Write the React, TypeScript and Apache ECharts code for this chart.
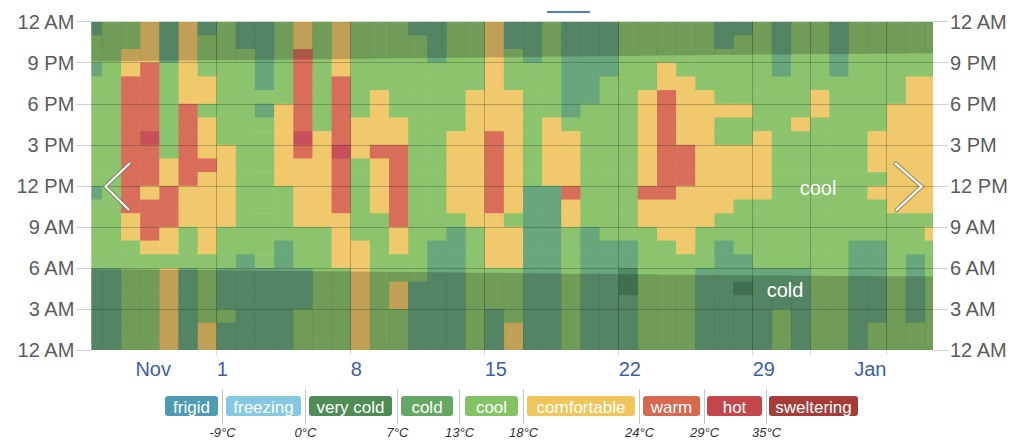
import React, { useEffect, useRef } from "react";
import * as echarts from "echarts";

// Hourly temperature band per day column, top row (11 PM-12 AM) first, bottom row (12 AM-1 AM) last.
// v = very cold, c = cold, g = cool, y = comfortable, w = warm, h = hot
const hourlyBands: string[] = [
  "cggcggggggggcgggggcccccc",
  "ggggggggggggggggggcccccc",
  "ggyywwwwwwwwwwyygggggggg",
  "yyywwwwwhwwwywwwyggggggg",
  "cccgggggggyywwwyygyyyyyy",
  "yyyyyywwwwwwyyygggcccccc",
  "cgggyygyyywyyyyyygggggyy",
  "gggggggggyyyyyygggcccgcc",
  "ccgggggggggggggggccccccc",
  "cccccgcgggggggggggcccccc",
  "ggggggyyyyyyggggcccccccc",
  "yywwwwwwhwyyyyygggcccggg",
  "ggggggggyyyyyyyggggggggg",
  "yyyywwwwwhwwwwyyyygggggg",
  "gggggggyyyggggggyyyyyyyy",
  "gggggyyyywyyyygggggggggg",
  "gggggggyywwwwwwyyggyyggg",
  "cggggggggggggggggggccccc",
  "cccgggggggggggggcccccccc",
  "ggggggggyyyyyygccccccccc",
  "gggggyyyyyyyyyyggggggggg",
  "yyyyyyyywwwwwwyyyygggccc",
  "ccgggyyyyyyyyygyyyggggyy",
  "cccgggggggggcccccccccccc",
  "gggggggyyyyycccccccccccc",
  "cccccccgyyyywyyggggggggg",
  "ccccccgggggggggccccccccc",
  "ccccggggggggggggcccccccc",
  "ggggggggggggggggccvvcccc",
  "gggggyyyyyyywyyggggggggg",
  "gggyywwwwwwwwyyygggggggg",
  "ggggyyyyywwwyyyyyggggggg",
  "gggggyyyyyyyyyygggcccccc",
  "ccggggyggyyyyyggcccccccc",
  "cgggggyggyyyyggggccvcccc",
  "ggggggggyyyyygggggcccccc",
  "ccccggggggggggggggcccggg",
  "gggggggyggggggggggcccccc",
  "gggggyyggggggggggggggggg",
  "ccccgggggggggggggggggggg",
  "ggggggggggggggggcccccccc",
  "ggggggggyyygygggccccccgg",
  "ggggggyyyyyyyygggggggggg",
  "ggggyyyyyyyyyygggcccccgg",
  "ggggyyyyyyyyyygygggggggg",
];

const bandCodes = ["v", "c", "g", "y", "w", "h"];
const bandColors = ["#4f8a66", "#68a67c", "#8cc46e", "#f0c96c", "#d86e5a", "#c8505a"];

// Night shading per day column (hours)
const sunriseHours = [
  5.9, 5.89, 5.88, 5.87, 5.86, 5.85, 5.84, 5.83, 5.82, 5.8, 5.79, 5.78, 5.76, 5.75, 5.74,
  5.72, 5.71, 5.7, 5.68, 5.67, 5.65, 5.64, 5.62, 5.61, 5.6, 5.58, 5.57, 5.55, 5.54, 5.53,
  5.51, 5.5, 5.49, 5.48, 5.47, 5.45, 5.44, 5.43, 5.42, 5.41, 5.41, 5.4, 5.39, 5.39, 5.38,
];
const sunsetHours = [
  21.1, 21.11, 21.12, 21.14, 21.15, 21.16, 21.18, 21.19, 21.2, 21.22, 21.23, 21.25, 21.26, 21.27, 21.29,
  21.3, 21.32, 21.33, 21.35, 21.36, 21.38, 21.39, 21.41, 21.42, 21.44, 21.45, 21.47, 21.48, 21.5, 21.51,
  21.53, 21.54, 21.56, 21.57, 21.58, 21.6, 21.61, 21.62, 21.63, 21.64, 21.65, 21.66, 21.67, 21.68, 21.69,
];

const xTickDays = [2.75, 7, 14, 21, 28, 35, 40.3];
const xTickLabels = ["Nov", "1", "8", "15", "22", "29", "Jan"];
const weekLines = [7, 14, 21, 28, 35, 38, 42];
const hourLines = [3, 6, 9, 12, 15, 18, 21];
const hourTickLabels = ["12 AM", "3 AM", "6 AM", "9 AM", "12 PM", "3 PM", "6 PM", "9 PM", "12 AM"];

const legendNames = ["frigid", "freezing", "very cold", "cold", "cool", "comfortable", "warm", "hot", "sweltering"];
const legendColors = ["#509bb4", "#87c8e1", "#508c55", "#64a864", "#84c364", "#efc65c", "#d76950", "#c3464b", "#a53c37"];
const thresholdLabels = ["-9°C", "0°C", "7°C", "13°C", "18°C", "24°C", "29°C", "35°C"];

const FONT = "'Liberation Sans', Arial, Helvetica, sans-serif";

export default function App() {
  const ref = useRef<HTMLDivElement>(null);

  useEffect(() => {
    if (!ref.current) return;
    const chart = echarts.init(ref.current, null, { renderer: "svg" });

    const cells: number[][] = [];
    hourlyBands.forEach((col, k) => {
      for (let i = 0; i < 24 && i < col.length; i++) {
        const idx = bandCodes.indexOf(col[i]);
        cells.push([k, 23 - i, idx < 0 ? 2 : idx]);
      }
    });
    const nights = sunriseHours.map((s, k) => [k, s, sunsetHours[k]]);

    const legendX = [165, 226, 309, 401, 465, 527, 643, 707, 769];
    const legendW = [53, 75, 83, 52, 53, 108, 57, 55, 89];
    const legendY = 396;
    const legendH = 20;

    const graphics: any[] = [];
    legendNames.forEach((name, i) => {
      graphics.push({
        type: "rect",
        shape: { x: legendX[i], y: legendY, width: legendW[i], height: legendH, r: 3 },
        style: { fill: legendColors[i] },
      });
      graphics.push({
        type: "text",
        style: {
          text: name,
          x: legendX[i] + legendW[i] / 2,
          y: legendY + legendH / 2 + 1,
          fill: "#ffffff",
          font: `17px ${FONT}`,
          align: "center",
          verticalAlign: "middle",
          textAlign: "center",
          textVerticalAlign: "middle",
        },
      });
    });
    thresholdLabels.forEach((t, i) => {
      const sx = Math.round((legendX[i] + legendW[i] + legendX[i + 1]) / 2) + 0.5;
      graphics.push({
        type: "line",
        shape: { x1: sx, y1: 389, x2: sx, y2: 424 },
        style: { stroke: "#c4c4c4", lineWidth: 1 },
      });
      graphics.push({
        type: "text",
        style: {
          text: t,
          x: sx,
          y: 432,
          fill: "#333333",
          font: `italic 13px ${FONT}`,
          align: "center",
          verticalAlign: "middle",
          textAlign: "center",
          textVerticalAlign: "middle",
        },
      });
    });
    // top page indicator
    graphics.push({
      type: "line",
      shape: { x1: 547, y1: 12, x2: 590, y2: 12 },
      style: { stroke: "#4d7fbf", lineWidth: 2 },
    });
    // navigation chevrons
    const chevrons = [
      [[129.5, 163.5], [105.5, 186.5], [128.5, 209.5]],
      [[895.5, 163.5], [921.5, 186.5], [896.5, 210]],
    ];
    chevrons.forEach((pts) => {
      graphics.push({
        type: "polyline",
        shape: { points: pts },
        style: { stroke: "rgba(110,110,110,0.55)", lineWidth: 4.5, fill: null, lineCap: "round", lineJoin: "miter" },
        z: 10,
      });
      graphics.push({
        type: "polyline",
        shape: { points: pts },
        style: { stroke: "rgba(255,255,255,0.95)", lineWidth: 2, fill: null, lineCap: "round", lineJoin: "miter" },
        z: 11,
      });
    });
    graphics.push({
      type: "text",
      z: 12,
      style: {
        text: "cool", x: 818, y: 188, fill: "#ffffff", font: `20px ${FONT}`,
        align: "center", verticalAlign: "middle", textAlign: "center", textVerticalAlign: "middle",
      },
    });
    graphics.push({
      type: "text",
      z: 12,
      style: {
        text: "cold", x: 785, y: 290, fill: "#ffffff", font: `20px ${FONT}`,
        align: "center", verticalAlign: "middle", textAlign: "center", textVerticalAlign: "middle",
      },
    });

    const yAxisBase = (pos: "left" | "right") => ({
      type: "value",
      position: pos,
      min: 0,
      max: 24,
      interval: 3,
      axisLine: { show: false },
      splitLine: { show: false },
      axisTick: { show: true, length: 15, lineStyle: { color: "#cfcfcf", width: 1 } },
      axisLabel: {
        margin: 17,
        color: "#5c5c5c",
        fontSize: 20,
        fontFamily: FONT,
        formatter: (v: number) => hourTickLabels[Math.round(v / 3)] ?? "",
      },
    });

    chart.setOption({
      animation: false,
      grid: { left: 91.3, right: 78, top: 21.7, bottom: 90, containLabel: false },
      xAxis: {
        type: "value",
        min: 0.446,
        max: 44.42,
        axisLine: { show: false },
        splitLine: { show: false },
        axisTick: { show: true, customValues: weekLines, length: 5, lineStyle: { color: "#d8d8d8" } },
        axisLabel: {
          customValues: xTickDays,
          margin: 9,
          color: "#3d5ea6",
          fontSize: 20,
          fontFamily: FONT,
          align: "left",
          formatter: (v: number) => {
            const i = xTickDays.findIndex((d) => Math.abs(d - v) < 1e-6);
            return i >= 0 ? xTickLabels[i] : "";
          },
        },
      },
      yAxis: [yAxisBase("left"), yAxisBase("right")],
      graphic: graphics,
      series: [
        {
          type: "custom",
          name: "temperature",
          coordinateSystem: "cartesian2d",
          xAxisIndex: 0,
          yAxisIndex: 0,
          silent: true,
          data: cells,
          renderItem: (params: any, api: any) => {
            const k = api.value(0);
            const h = api.value(1);
            const ci = api.value(2);
            const p0 = api.coord([k, h + 1]);
            const p1 = api.coord([k + 1, h]);
            const r = echarts.graphic.clipRectByRect(
              { x: p0[0], y: p0[1], width: p1[0] - p0[0] + 0.6, height: p1[1] - p0[1] + 0.6 },
              params.coordSys
            );
            if (!r) return null;
            return { type: "rect", shape: r, style: { fill: bandColors[ci] } };
          },
        },
        {
          type: "custom",
          name: "night",
          coordinateSystem: "cartesian2d",
          xAxisIndex: 0,
          yAxisIndex: 0,
          silent: true,
          data: nights,
          renderItem: (params: any, api: any) => {
            const k = api.value(0);
            const rise = api.value(1);
            const set = api.value(2);
            const children: any[] = [];
            const mk = (y0: number, y1: number) => {
              const a = api.coord([k, y1]);
              const b = api.coord([k + 1, y0]);
              const r = echarts.graphic.clipRectByRect(
                { x: a[0], y: a[1], width: b[0] - a[0] + 0.3, height: b[1] - a[1] },
                params.coordSys
              );
              if (r) children.push({ type: "rect", shape: r, style: { fill: "rgba(0,0,0,0.2)" } });
            };
            mk(set, 24);
            mk(0, rise);
            return { type: "group", children };
          },
          markLine: {
            silent: true,
            symbol: ["none", "none"],
            label: { show: false },
            lineStyle: { color: "rgba(30,40,30,0.28)", width: 1, type: "solid" },
            data: [
              ...hourLines.map((v) => ({ yAxis: v })),
              ...weekLines.map((v) => ({ xAxis: v })),
            ],
          },
        },
      ],
    });

    return () => chart.dispose();
  }, []);

  return (
    <div
      ref={ref}
      style={{ position: "absolute", left: 0, top: 0, width: 1011, height: 440, background: "#ffffff" }}
    />
  );
}
